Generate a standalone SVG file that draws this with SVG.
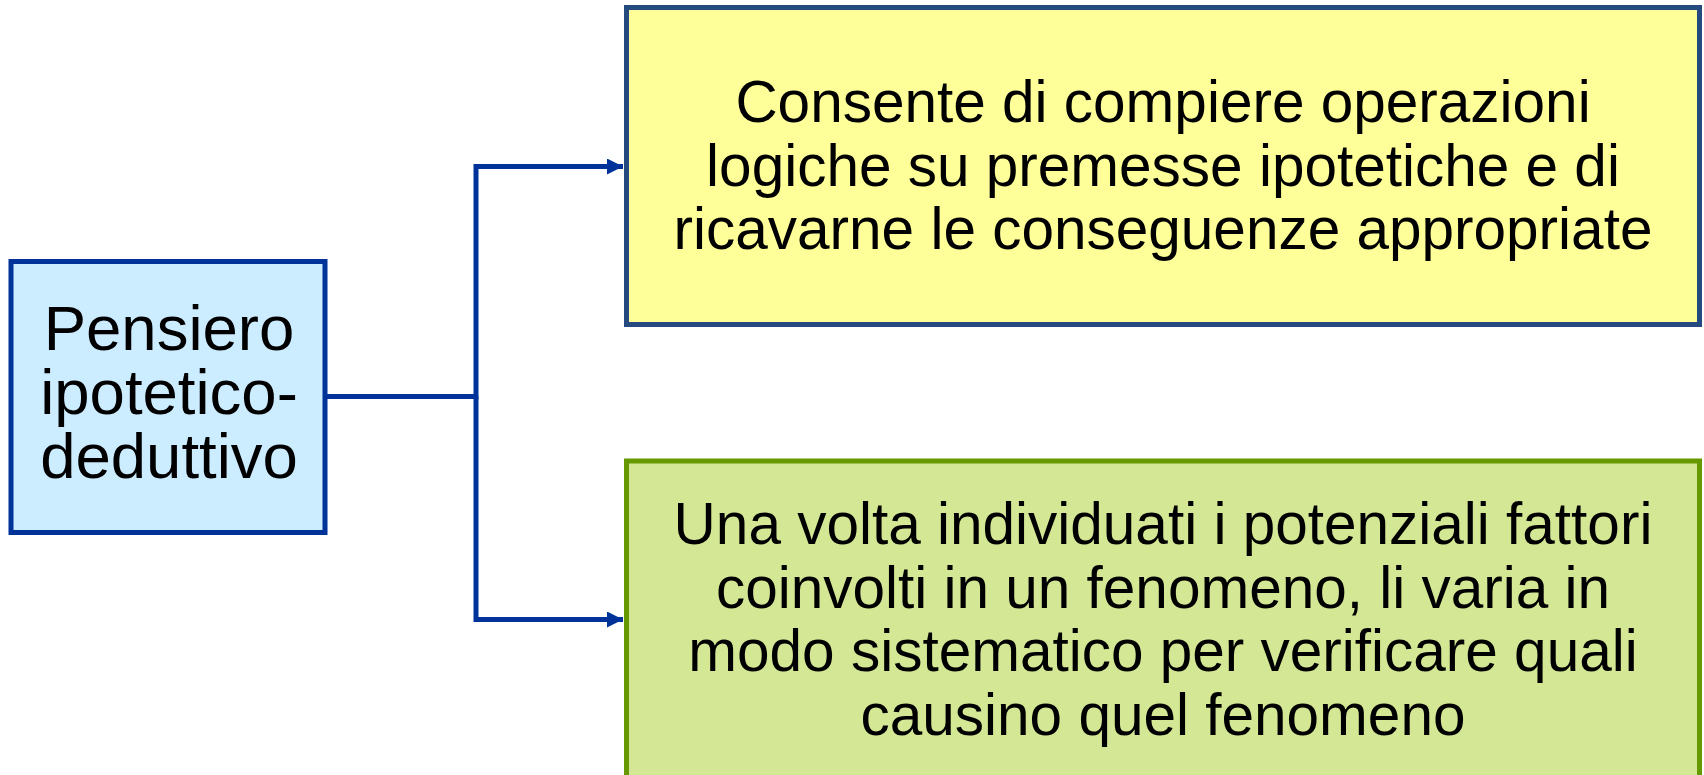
<svg xmlns="http://www.w3.org/2000/svg" width="1704" height="775" viewBox="0 0 1704 775">
<style>
text { font-family: "Liberation Sans", Arial, sans-serif; font-size: 58.5px; fill: #000; text-anchor: middle; }
.big { font-size: 63.5px; }
.conn { fill: none; stroke: #003399; stroke-width: 5; }
</style>
<defs>
<marker id="arr" markerWidth="3.2" markerHeight="3.2" refX="3.2" refY="1.6" orient="auto" markerUnits="strokeWidth">
<path d="M0,0 L3.2,1.6 L0,3.2 Z" fill="#003399"/>
</marker>
</defs>
<rect width="1704" height="775" fill="#fff"/>
<g id="connectors">
<path class="conn" d="M327,396.5 H476 V166.5 H623" marker-end="url(#arr)"/>
<path class="conn" d="M476,396.5 V619.5 H623" marker-end="url(#arr)"/>
</g>
<g id="node-pensiero">
<rect x="11" y="261.5" width="314" height="271" fill="#CCECFF" stroke="#003399" stroke-width="5"/>
<text class="big" x="169" y="350">Pensiero</text>
<text class="big" x="169" y="414">ipotetico-</text>
<text class="big" x="169" y="478">deduttivo</text>
</g>
<g id="node-consente">
<rect x="626.5" y="7.5" width="1073" height="317" fill="#FFFF99" stroke="#244A80" stroke-width="5"/>
<text x="1163" y="122">Consente di compiere operazioni</text>
<text x="1163" y="185.5">logiche su premesse ipotetiche e di</text>
<text x="1163" y="249">ricavarne le conseguenze appropriate</text>
</g>
<g id="node-variabili">
<rect x="626.5" y="461" width="1073" height="330" fill="#D3E794" stroke="#669900" stroke-width="5"/>
<text x="1163" y="544">Una volta individuati i potenziali fattori</text>
<text x="1163" y="607.5">coinvolti in un fenomeno, li varia in</text>
<text x="1163" y="671">modo sistematico per verificare quali</text>
<text x="1163" y="734.5">causino quel fenomeno</text>
</g>
</svg>
